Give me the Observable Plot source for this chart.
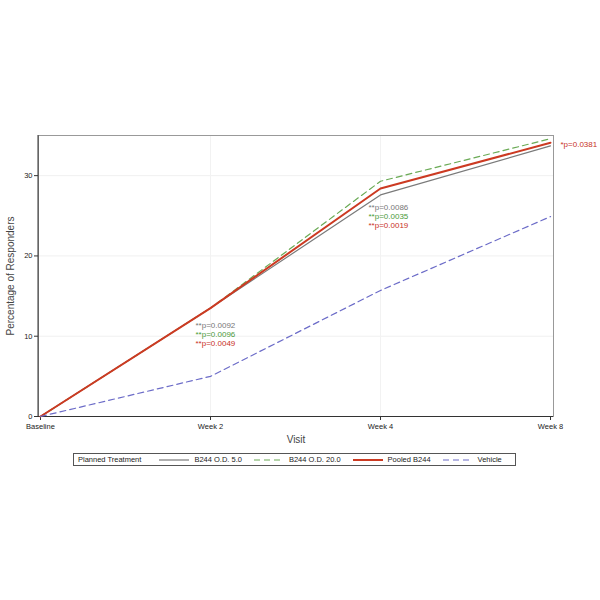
<!DOCTYPE html>
<html><head><meta charset="utf-8">
<script src="https://cdn.jsdelivr.net/npm/d3@7"></script>
<script src="https://cdn.jsdelivr.net/npm/@observablehq/plot@0.6"></script>
<style>
body{margin:0;background:#fff;font-family:"Liberation Sans",Arial,sans-serif;}
#wrap{position:relative;width:600px;height:600px;}
#legend{position:absolute;left:73px;top:453px;width:441px;height:11px;border:1px solid #555;box-sizing:content-box;
 font-size:7.5px;color:#222;display:flex;align-items:center;white-space:nowrap;}
#legend .sw{display:inline-block;width:30px;height:8px;margin:0 5px 0 8px;vertical-align:middle;}
</style></head>
<body><div id="wrap"><div id="chart"></div><div id="legend"></div></div>
<script>
const visits = ["Baseline", "Week 2", "Week 4", "Week 8"];
const seriesNames = ["B244 O.D. 5.0", "B244 O.D. 20.0", "Pooled B244", "Vehicle"];
const od5 = [0, 13.5, 27.6, 33.7];
const od20 = [0, 13.5, 29.3, 34.6];
const pooled = [0, 13.5, 28.4, 34.1];
const vehicle = [0, 5.0, 15.7, 24.9];
const yTicks = [0, 10, 20, 30];
const colors = ["#7a7a7a", "#6aaa55", "#cc3a22", "#6c6cc8"];
const dashes = [null, "6,4", null, "6,4"];
const widths = [1.2, 1.2, 2, 1.2];

const annWeek2 = ["**p=0.0092", "**p=0.0096", "**p=0.0049"];
const annWeek4 = ["**p=0.0086", "**p=0.0035", "**p=0.0019"];
const annWeek8 = ["*p=0.0381"];
const annColors = ["#777777", "#4a9a3a", "#c8321e"];

const values = [od5, od20, pooled, vehicle];
const rows = [];
seriesNames.forEach((s, i) => visits.forEach((v, j) => rows.push({series: s, visit: v, value: values[i][j]})));

const ann = [];
annWeek2.forEach((t, i) => ann.push({visit: "Week 2", y: pooled[1], text: t, color: annColors[i], row: i, dx: -15, dy0: 17}));
annWeek4.forEach((t, i) => ann.push({visit: "Week 4", y: pooled[2], text: t, color: annColors[i], row: i, dx: -12, dy0: 19}));
annWeek8.forEach((t, i) => ann.push({visit: "Week 8", y: pooled[3], text: t, color: annColors[2], row: i, dx: 10, dy0: 2}));

const lineMarks = seriesNames.map((s, i) =>
  Plot.lineY(rows.filter(r => r.series === s), {
    x: "visit", y: "value", stroke: colors[i], strokeWidth: widths[i],
    strokeDasharray: dashes[i] || undefined
  }));

const annMarks = ann.map(a => Plot.text([a], {
  x: "visit", y: "y", text: "text", fill: a.color, textAnchor: "start",
  dx: a.dx, dy: a.dy0 + a.row * 9, fontSize: 8
}));

const chart = Plot.plot({
  width: 600, height: 448,
  marginLeft: 38, marginRight: 47, marginTop: 135, marginBottom: 32,
  style: {fontFamily: "Liberation Sans, Arial, sans-serif", fontSize: "7.5px", color: "#333", background: "#fff"},
  x: {type: "point", domain: visits, padding: 0, range: [39, 550], label: null},
  y: {domain: [0, 35], ticks: yTicks, label: null},
  marks: [
    Plot.gridY(yTicks.filter(d => d > 0), {stroke: "#f0f0f0", strokeOpacity: 1}),
    Plot.gridX(visits.slice(1, 3), {stroke: "#f2f2f2", strokeOpacity: 1}),
    Plot.frame({stroke: "#999"}),
    Plot.ruleY([0], {stroke: "#333"}),
    Plot.axisX({tickSize: 4, tickPadding: 3, fontSize: 7.5, label: null, fill: "#222", stroke: "#333"}),
    Plot.axisY({ticks: yTicks, tickSize: 4, tickPadding: 2, fontSize: 7.5, label: null, fill: "#222", stroke: "#333"}),
    Plot.axisY({ticks: [], tickSize: 0, label: "Percentage of Responders", labelAnchor: "center", labelArrow: "none", labelOffset: 32, fontSize: 10, fill: "#444"}),
    Plot.axisX({ticks: [], tickSize: 0, label: "Visit", labelAnchor: "center", labelArrow: "none", labelOffset: 26, fontSize: 10, fill: "#444"}),
    ...lineMarks,
    ...annMarks
  ]
});
document.getElementById("chart").appendChild(chart);
const svg = d3.select(chart);
svg.append("line").attr("x1", 38).attr("x2", 38).attr("y1", 135).attr("y2", 416).attr("stroke", "#333");

const lg = document.getElementById("legend");
let html = '<span style="margin-left:4px;margin-right:10px">Planned Treatment</span>';
seriesNames.forEach((s, i) => {
  html += `<svg class="sw" width="30" height="8"><line x1="0" x2="30" y1="4" y2="4" stroke="${colors[i]}" stroke-width="${widths[i]}" ${dashes[i] ? `stroke-dasharray="${dashes[i]}"` : ""}/></svg><span style="margin-right:4px">${s}</span>`;
});
lg.innerHTML = html;
</script></body></html>
